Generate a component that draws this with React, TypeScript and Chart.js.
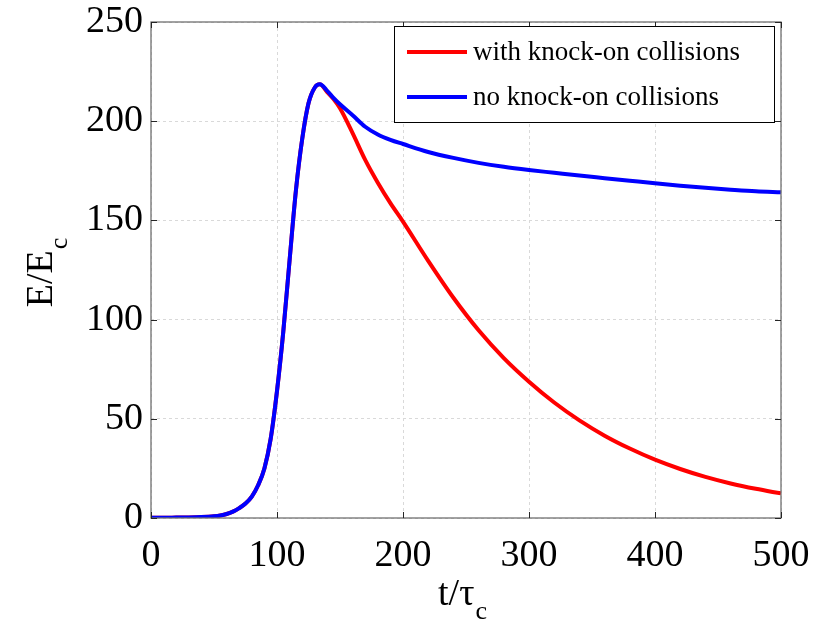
import React, { useEffect, useRef } from "react";
import { Chart, registerables } from "chart.js";

Chart.register(...registerables);

// ---- data ----
const tRise = [0, 10, 20, 30, 40, 50, 55, 60, 65, 70, 75, 80, 85, 90, 95, 100, 105, 110, 115, 120, 125, 130, 134];
const eRise = [0.1, 0.1, 0.2, 0.3, 0.5, 0.9, 1.3, 2.0, 3.2, 5.0, 7.3, 10.8, 16.5, 25, 40, 64, 94, 130, 165, 191, 209, 217, 218.6];

const tDecay = [140, 145, 150, 160, 170, 180, 190, 200, 220, 240, 260, 280, 300, 320, 340, 360, 380, 400, 420, 440, 460, 480, 500];
const eWithKnockOn = [214.5, 211, 206.5, 194, 180.5, 169, 158.7, 149.4, 129.6, 111, 94.6, 80.6, 68.7, 58.2, 49.2, 41.5, 35, 29.4, 24.7, 20.7, 17.4, 14.7, 12.4];
const eNoKnockOn = [215.2, 211.6, 208.5, 203, 197.2, 193.3, 190.6, 188.5, 184.5, 181.5, 179, 177, 175.4, 174, 172.6, 171.3, 170, 168.7, 167.5, 166.4, 165.5, 164.7, 164.2];

const seriesLabels = ["with knock-on collisions", "no knock-on collisions"];
const seriesColors = ["#ff0000", "#0000ff"];

const xMin = 0, xMax = 500, xStep = 100;
const yMin = 0, yMax = 250, yStep = 50;

const FONT = "'Liberation Serif', 'Times New Roman', serif";

function toPoints(ts: number[], es: number[]) {
  return ts.map((t, i) => ({ x: t, y: es[i] }));
}

const decorPlugin = {
  id: "matlabDecor",
  afterDatasetsDraw(chart: any) {
    const { ctx, chartArea, scales } = chart;
    const { left, right, top, bottom } = chartArea;
    ctx.save();
    // box
    ctx.strokeStyle = "#707070";
    ctx.lineWidth = 1.3;
    ctx.strokeRect(left, top, right - left, bottom - top);
    // inward ticks on all sides
    ctx.strokeStyle = "#262626";
    ctx.lineWidth = 1;
    const tl = 6;
    scales.x.ticks.forEach((tk: any) => {
      const px = Math.round(scales.x.getPixelForValue(tk.value)) + 0.5;
      ctx.beginPath();
      ctx.moveTo(px, bottom);
      ctx.lineTo(px, bottom - tl);
      ctx.moveTo(px, top);
      ctx.lineTo(px, top + tl);
      ctx.stroke();
    });
    scales.y.ticks.forEach((tk: any) => {
      const py = Math.round(scales.y.getPixelForValue(tk.value)) + 0.5;
      ctx.beginPath();
      ctx.moveTo(left, py);
      ctx.lineTo(left + tl, py);
      ctx.moveTo(right, py);
      ctx.lineTo(right - tl, py);
      ctx.stroke();
    });
    ctx.restore();
  },
  afterDraw(chart: any) {
    const { ctx, chartArea } = chart;
    ctx.save();
    // legend box
    const lx = 394, ly = 26, lw = 380, lh = 96;
    ctx.fillStyle = "#ffffff";
    ctx.fillRect(lx, ly, lw, lh);
    ctx.strokeStyle = "#000000";
    ctx.lineWidth = 1;
    ctx.strokeRect(lx + 0.5, ly + 0.5, lw, lh);
    const rowsY = [52, 97];
    ctx.textBaseline = "middle";
    ctx.textAlign = "left";
    chart.data.datasets.forEach((ds: any, i: number) => {
      const y = rowsY[i];
      ctx.strokeStyle = ds.borderColor;
      ctx.lineWidth = 4;
      ctx.beginPath();
      ctx.moveTo(407, y);
      ctx.lineTo(467, y);
      ctx.stroke();
      ctx.fillStyle = "#000000";
      ctx.font = `27px ${FONT}`;
      ctx.fillText(ds.label, 473, y + 1);
    });

    // x axis title: t/τ_c
    ctx.fillStyle = "#000000";
    ctx.textBaseline = "alphabetic";
    ctx.font = `38px ${FONT}`;
    const xMain = "t/τ";
    const wMain = ctx.measureText(xMain).width;
    ctx.font = `26px ${FONT}`;
    const wSub = ctx.measureText("c").width;
    const xc = (chartArea.left + chartArea.right) / 2 - 4;
    const xs = xc - (wMain + wSub) / 2;
    ctx.font = `38px ${FONT}`;
    ctx.fillText(xMain, xs, 605);
    ctx.font = `26px ${FONT}`;
    ctx.fillText("c", xs + wMain + 1, 619);

    // y axis title: E/E_c (rotated)
    ctx.font = `38px ${FONT}`;
    const yMain = "E/E";
    const wy = ctx.measureText(yMain).width;
    ctx.font = `26px ${FONT}`;
    const wyc = ctx.measureText("c").width;
    const yc = (chartArea.top + chartArea.bottom) / 2 + 3;
    ctx.translate(52, yc + (wy + wyc) / 2);
    ctx.rotate(-Math.PI / 2);
    ctx.font = `38px ${FONT}`;
    ctx.fillText(yMain, 0, 0);
    ctx.font = `26px ${FONT}`;
    ctx.fillText("c", wy + 1, 15);
    ctx.restore();
  },
};

export default function App() {
  const canvasRef = useRef<HTMLCanvasElement | null>(null);

  useEffect(() => {
    document.body.style.margin = "0";
    const canvas = canvasRef.current;
    if (!canvas) return;
    const chart = new Chart(canvas, {
      type: "line",
      data: {
        datasets: [
          {
            label: seriesLabels[0],
            data: toPoints([...tRise, ...tDecay], [...eRise, ...eWithKnockOn]),
            borderColor: seriesColors[0],
            backgroundColor: seriesColors[0],
            borderWidth: 4,
            pointRadius: 0,
            cubicInterpolationMode: "monotone",
            fill: false,
            order: 1,
          },
          {
            label: seriesLabels[1],
            data: toPoints([...tRise, ...tDecay], [...eRise, ...eNoKnockOn]),
            borderColor: seriesColors[1],
            backgroundColor: seriesColors[1],
            borderWidth: 4,
            pointRadius: 0,
            cubicInterpolationMode: "monotone",
            fill: false,
            order: 0,
          },
        ],
      },
      options: {
        responsive: false,
        animation: false,
        devicePixelRatio: 1,
        layout: { padding: { left: 0, top: 22, right: 37, bottom: 0 } },
        plugins: {
          legend: { display: false },
          tooltip: { enabled: false },
          title: { display: false },
        },
        scales: {
          x: {
            type: "linear",
            min: xMin,
            max: xMax,
            afterFit: (s: any) => {
              s.height = 104;
              s.paddingLeft = 0;
              s.paddingRight = 0;
            },
            ticks: {
              stepSize: xStep,
              maxRotation: 0,
              padding: 19,
              color: "#000000",
              font: { family: FONT, size: 38, lineHeight: 1 },
            },
            grid: {
              color: "#d9d9d9",
              lineWidth: 1,
              drawTicks: false,
            },
            border: { display: false, dash: [3, 3] },
          },
          y: {
            type: "linear",
            min: yMin,
            max: yMax,
            afterFit: (s: any) => {
              s.width = 151;
              s.paddingTop = 0;
              s.paddingBottom = 0;
            },
            ticks: {
              stepSize: yStep,
              padding: 8,
              color: "#000000",
              font: { family: FONT, size: 38, lineHeight: 1 },
            },
            grid: {
              color: "#d9d9d9",
              lineWidth: 1,
              drawTicks: false,
            },
            border: { display: false, dash: [3, 3] },
          },
        },
      },
      plugins: [decorPlugin],
    });
    return () => chart.destroy();
  }, []);

  return (
    <div style={{ position: "absolute", left: 0, top: 0, width: 818, height: 622, background: "#ffffff" }}>
      <canvas ref={canvasRef} width={818} height={622} />
    </div>
  );
}
